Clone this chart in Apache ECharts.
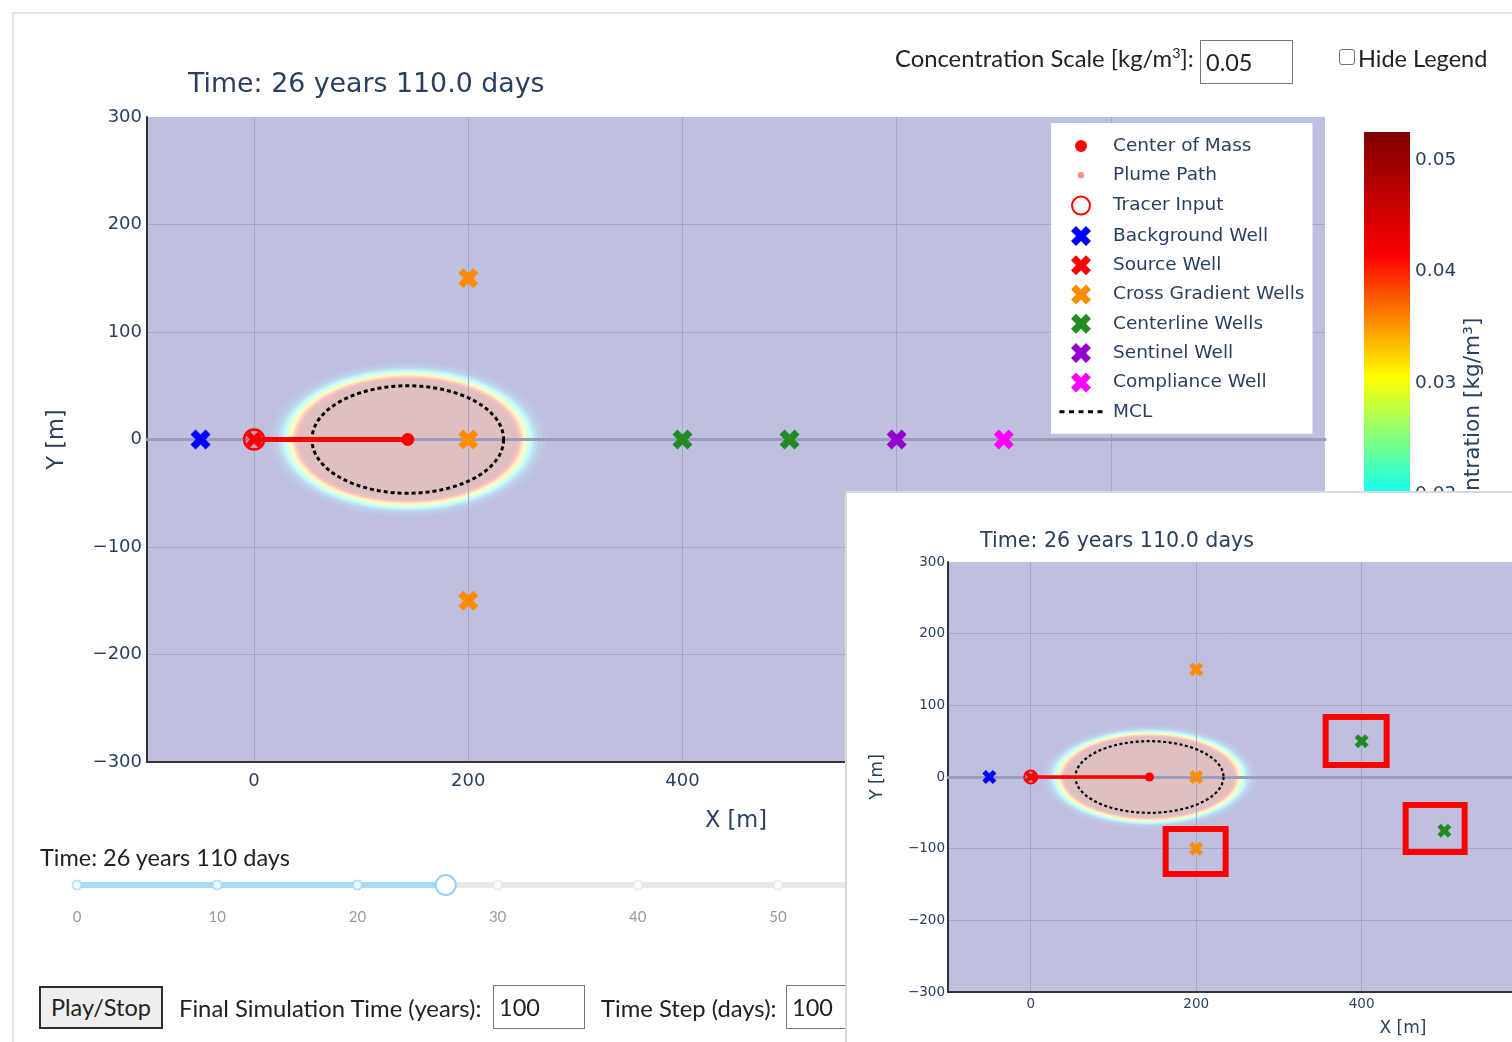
<!DOCTYPE html>
<html>
<head>
<meta charset="utf-8">
<title>Plume simulation</title>
<script src="https://cdn.jsdelivr.net/npm/echarts@6.0.0/dist/echarts.min.js"></script>
<style>
  html, body { margin: 0; padding: 0; background: #fff; overflow: hidden; }
  body { width: 1512px; height: 1042px; position: relative; font-family: Lato, "Noto Sans", sans-serif; color: #222; }
  #frame { position: absolute; left: 12px; top: 12px; width: 1600px; height: 1100px; border-left: 2px solid #e4e4e4; border-top: 2px solid #e4e4e4; }
  #main { position: absolute; left: 0; top: 0; width: 1512px; height: 1042px; }
  .lbl { position: absolute; white-space: nowrap; font-size: 23.8px; line-height: 28px; }
  .lbl sup { font-size: 0.6em; vertical-align: 0.65em; line-height: 0; }
  .box { position: absolute; border: 1px solid #767676; background: #fff; font-size: 23.5px; line-height: 42px; padding-left: 5px; box-sizing: border-box; white-space: nowrap; overflow: hidden; }
  .chk { position: absolute; width: 16px; height: 16px; border: 1.5px solid #707070; border-radius: 3px; background: #fff; box-sizing: border-box; }
  .btn { position: absolute; background: #efefef; border: 2px solid #2e2e2e; box-sizing: border-box; font-size: 23.5px; line-height: 39px; text-align: center; white-space: nowrap; }
  #inset { position: absolute; left: 845px; top: 491px; width: 700px; height: 600px; background: #fff; border-left: 2px solid #d9d9d9; border-top: 2px solid #d9d9d9; }
  #insetChart { position: absolute; left: -2px; top: -2px; width: 667px; height: 551px; }
</style>
</head>
<body>
<div id="frame"></div>
<div id="main"></div>

<div class="lbl" style="left:895px; top:44px;">Concentration Scale [kg/m<sup>3</sup>]:</div>
<div class="box" style="left:1200px; top:40px; width:93px; height:44px;">0.05</div>
<div class="chk" style="left:1339px; top:49px;"></div>
<div class="lbl" style="left:1358px; top:44px; font-size:23.5px;">Hide Legend</div>

<div class="lbl" style="left:40px; top:843px; font-size:23.5px;">Time: 26 years 110 days</div>
<div class="btn" style="left:39px; top:986px; width:124px; height:43px;">Play/Stop</div>
<div class="lbl" style="left:179px; top:994px;">Final Simulation Time (years):</div>
<div class="box" style="left:493px; top:985px; width:92px; height:44px;">100</div>
<div class="lbl" style="left:601px; top:994px;">Time Step (days):</div>
<div class="box" style="left:786px; top:985px; width:92px; height:44px;">100</div>

<div id="inset"><div id="insetChart"></div></div>

<script>
// ---------------- data ----------------
const timeTitle = 'Time: 26 years 110.0 days';
const currentYears = 26 + 110 / 365;
const sliderTicks = [0, 10, 20, 30, 40, 50, 60, 70, 80, 90, 100];

const xExtent = [-100, 1000];
const yExtent = [-300, 300];

// plume state at the current time step
const centerOfMass = [[143.5, 0]];
const plumePath = [[0, 0], [143.5, 0]];
const tracerInput = [[0, 0]];

// monitoring wells, design layout
const backgroundWell = [[-50, 0]];
const sourceWell = [[0, 0]];
const crossGradientWells = [[200, 150], [200, 0], [200, -150]];
const centerlineWells = [[400, 0], [500, 0]];
const sentinelWell = [[600, 0]];
const complianceWell = [[700, 0]];

// monitoring wells, field layout
const crossGradientWellsField = [[200, 150], [200, 0], [200, -100]];
const centerlineWellsField = [[400, 50], [500, -75]];
// off-line wells flagged in the field layout: [x1, y1, x2, y2]
const flaggedAreas = [
  [356.5, 83.7, 430.2, 16.7],
  [453.2, -39.1, 524.5, -104.6],
  [163.1, -72.6, 235.6, -135.3]
];

// concentration contours of the plume (kg/m3) and their half axes (m)
const plumeCenter = [143.5, 0];
const contourLevels     = [0.004, 0.008, 0.012, 0.016, 0.020, 0.024, 0.028, 0.032, 0.036, 0.040, 0.044, 0.048, 0.0525];
const contourHalfLength = [129,   125,   121,   118,   116,   114,   111.5, 109.5, 107.5, 106,   104.5, 103,   102];
const contourHalfWidth  = [72,    69.5,  67,    65.5,  64.5,  63,    62,    60.5,  59.5,  58.5,  57.5,  57,    56];
const mclHalfAxes = [89.5, 50];

const colorbarRange = [0, 0.0525];
const colorbarStep = 0.01;

// ---------------- styling ----------------
const FONT = 'DejaVu Sans';
const TXT = '#2a3f5f';
const GRIDLINE = '#a2a5c5';
const ZEROLINE = '#9a9cbd';
const SLIDER_BLUE = '#a6dcf5';
const X_SYMBOL = 'path://M0,1L1,2L2,1L1,0L2,-1L1,-2L0,-1L-1,-2L-2,-1L-1,0L-2,1L-1,2Z';

// colour scale of the concentration field: [value, rgb]
const plumeScale = [
  [0,      [0, 0, 131]],
  [0.0085, [0, 60, 170]],
  [0.0195, [5, 255, 255]],
  [0.0305, [255, 255, 0]],
  [0.0415, [250, 0, 0]],
  [0.0525, [128, 0, 0]]
];
const fieldOpacity = 0.25;

function scaleColor(v) {
  if (v <= plumeScale[0][0]) return plumeScale[0][1];
  for (let i = 1; i < plumeScale.length; i++) {
    const [v1, c1] = plumeScale[i];
    if (v <= v1) {
      const [v0, c0] = plumeScale[i - 1];
      const t = (v - v0) / (v1 - v0);
      return c0.map((c, k) => c + (c1[k] - c) * t);
    }
  }
  return plumeScale[plumeScale.length - 1][1];
}
function rgb(c) { return 'rgb(' + c.map(Math.round).join(',') + ')'; }
// field is shown semi-transparent over a white page
function fieldColor(v) {
  return rgb(scaleColor(v).map(c => 255 * (1 - fieldOpacity) + c * fieldOpacity));
}

function ellipsePoints(cx, cy, rx, ry) {
  const pts = [];
  const n = 144;
  for (let k = 0; k < n; k++) {
    const t = (k / n) * Math.PI * 2;
    pts.push([cx + rx * Math.cos(t), cy + ry * Math.sin(t)]);
  }
  return pts;
}

function plumeItem(params, api) {
  const c = api.coord(plumeCenter);
  const rx = api.size([api.value(1), 0])[0];
  const ry = api.size([0, api.value(2)])[1];
  return {
    type: 'polygon',
    shape: { points: ellipsePoints(c[0], c[1], rx, ry) },
    style: { fill: fieldColor(api.value(0)) },
    silent: true
  };
}

function mclItem(width, dash) {
  return function (params, api) {
    const c = api.coord(plumeCenter);
    const rx = api.size([api.value(0), 0])[0];
    const ry = api.size([0, api.value(1)])[1];
    return {
      type: 'polygon',
      shape: { points: ellipsePoints(c[0], c[1], rx, ry) },
      style: { fill: 'none', stroke: '#000', lineWidth: width, lineDash: dash }
    };
  };
}

function flagItem(params, api) {
  const p1 = api.coord([api.value(0), api.value(1)]);
  const p2 = api.coord([api.value(2), api.value(3)]);
  return {
    type: 'rect',
    shape: {
      x: Math.min(p1[0], p2[0]), y: Math.min(p1[1], p2[1]),
      width: Math.abs(p2[0] - p1[0]), height: Math.abs(p2[1] - p1[1])
    },
    style: { fill: 'none', stroke: '#ff0000', lineWidth: 6 }
  };
}

function tickFmt(v) { return v < 0 ? '\u2212' + Math.abs(v) : String(v); }

function contourData() {
  return contourLevels.map((v, i) => [v, contourHalfLength[i], contourHalfWidth[i]]);
}

function wellSeries(name, data, color, size, z) {
  return {
    type: 'scatter', name: name, data: data, xAxisIndex: 0, yAxisIndex: 0,
    symbol: X_SYMBOL, symbolSize: size, symbolKeepAspect: true,
    itemStyle: { color: color, opacity: 1 }, z: z || 5, silent: true
  };
}

// all traces of one map view
function mapSeries(s, wells) {
  const list = [
    { type: 'custom', name: 'plume', xAxisIndex: 0, yAxisIndex: 0, z: 1, silent: true,
      renderItem: plumeItem, data: contourData() },
    { type: 'custom', name: 'MCL', xAxisIndex: 0, yAxisIndex: 0, z: 3, silent: true,
      renderItem: mclItem(s.mclWidth, s.mclDash), data: [mclHalfAxes], itemStyle: { color: '#000' } },
    { type: 'line', name: 'Plume Path', xAxisIndex: 0, yAxisIndex: 0, z: 4, silent: true,
      data: plumePath, symbol: 'none', lineStyle: { color: '#ff0000', width: s.path }, itemStyle: { color: '#ff0000' } },
    { type: 'scatter', name: 'Center of Mass', xAxisIndex: 0, yAxisIndex: 0, z: 5, silent: true,
      data: centerOfMass, symbol: 'circle', symbolSize: s.com, itemStyle: { color: '#ff0000', opacity: 1 } },
    wellSeries('Background Well', backgroundWell, '#0000ff', s.x),
    wellSeries('Source Well', sourceWell, '#ff0000', s.src, 5),
    { type: 'scatter', name: 'Tracer Input', xAxisIndex: 0, yAxisIndex: 0, z: 6, silent: true,
      data: tracerInput, symbol: 'circle', symbolSize: s.tracer,
      itemStyle: { color: 'rgba(255,0,0,0.15)', borderColor: '#ff0000', borderWidth: s.tracerBorder, opacity: 1 } },
    wellSeries('Cross Gradient Wells', wells.cross, '#ff8c00', s.x),
    wellSeries('Centerline Wells', wells.center, '#228b22', s.x)
  ];
  if (wells.sentinel) list.push(wellSeries('Sentinel Well', wells.sentinel, '#9400d3', s.x));
  if (wells.compliance) list.push(wellSeries('Compliance Well', wells.compliance, '#ff00ff', s.x));
  return list;
}

function mapAxes(s) {
  const xAxes = [
    { gridIndex: 0, type: 'value', min: xExtent[0], max: xExtent[1], splitNumber: 5, z: 2,
      axisLine: { show: true, onZero: false, lineStyle: { color: '#333', width: 2 } },
      axisTick: { show: false },
      axisLabel: { fontSize: s.tick, color: TXT, fontFamily: FONT, margin: s.xMargin,
                   showMinLabel: false, showMaxLabel: false, formatter: tickFmt },
      splitLine: { show: true, showMinLine: false, showMaxLine: false, lineStyle: { color: GRIDLINE, width: 1 } },
      name: 'X [m]', nameLocation: 'middle', nameGap: s.xNameGap,
      nameTextStyle: { fontSize: s.axisName, color: TXT, fontFamily: FONT } },
    // zero line of the y scale
    { gridIndex: 0, type: 'value', min: xExtent[0], max: xExtent[1], z: 2,
      axisLine: { show: true, onZero: true, onZeroAxisIndex: 0, lineStyle: { color: ZEROLINE, width: 3 } },
      axisTick: { show: false }, axisLabel: { show: false }, splitLine: { show: false } }
  ];
  const yAxes = [
    { gridIndex: 0, type: 'value', min: yExtent[0], max: yExtent[1], interval: 100, z: 2,
      axisLine: { show: true, onZero: false, lineStyle: { color: '#333', width: 2 } },
      axisTick: { show: false },
      axisLabel: { fontSize: s.tick, color: TXT, fontFamily: FONT, margin: s.yMargin, formatter: tickFmt },
      splitLine: { show: true, showMinLine: false, showMaxLine: false, lineStyle: { color: GRIDLINE, width: 1 } },
      name: 'Y [m]', nameLocation: 'middle', nameGap: s.yNameGap, nameRotate: 90,
      nameTextStyle: { fontSize: s.axisName, color: TXT, fontFamily: FONT } }
  ];
  return { xAxes, yAxes };
}

// legend icons live in a 49x20 box, symbol centred at the origin
function legendIcon(inner) { return 'path://M-22,-10M27,10' + inner; }
const circlePath = r => 'M' + (-r) + ',0A' + r + ',' + r + ',0,1,0,' + r + ',0A' + r + ',' + r + ',0,1,0,' + (-r) + ',0Z';
const xIconPath = 'M0,5L5,10L10,5L5,0L10,-5L5,-10L0,-5L-5,-10L-10,-5L-5,0L-10,5L-5,10Z';
const dashIconPath = [-21.5, -12, -2.5, 7, 16.5]
  .map(x0 => 'M' + x0 + ',-1.5L' + (x0 + 5) + ',-1.5L' + (x0 + 5) + ',1.5L' + x0 + ',1.5Z').join('');

// ---------------- main view ----------------
const mainSizes = { x: 20, src: 16, com: 13, tracer: 20, tracerBorder: 2.5, path: 5, mclWidth: 3, mclDash: [4, 3],
                    tick: 18, axisName: 22.5, xMargin: 10, yMargin: 5, xNameGap: 48, yNameGap: 78 };
const mainAx = mapAxes(mainSizes);

const gradientStops = plumeScale.map(([v, c]) => ({ offset: (v - colorbarRange[0]) / (colorbarRange[1] - colorbarRange[0]), color: rgb(c) }));

const mainOption = {
  animation: false,
  textStyle: { fontFamily: FONT },
  title: { text: timeTitle, left: 188, top: 72, padding: 0,
           textStyle: { fontSize: 26.8, fontWeight: 'normal', color: TXT, fontFamily: FONT } },
  grid: [
    { left: 147, top: 117, width: 1178, height: 645, show: true, backgroundColor: fieldColor(0), borderWidth: 0, outerBoundsMode: 'none' },
    { left: 1364, top: 132, width: 46, height: 585, outerBoundsMode: 'none' },
    { left: 77, top: 875, width: 1402, height: 20, outerBoundsMode: 'none' }
  ],
  legend: {
    orient: 'vertical', left: 1051, top: 123, padding: [13, 8, 12, 7],
    itemWidth: 49, itemHeight: 20, itemGap: 9.3, backgroundColor: '#fff', z: 10, selectedMode: false,
    textStyle: { fontSize: 18.5, color: TXT, fontFamily: FONT },
    data: [
      { name: 'Center of Mass', icon: legendIcon(circlePath(6)), itemStyle: { color: '#ff0000', borderWidth: 0 } },
      { name: 'Plume Path', icon: legendIcon(circlePath(3.2)), itemStyle: { color: 'rgba(255,0,0,0.45)', borderWidth: 0 } },
      { name: 'Tracer Input', icon: legendIcon(circlePath(9)), itemStyle: { color: '#fff', borderColor: '#ff0000', borderWidth: 2 } },
      { name: 'Background Well', icon: legendIcon(xIconPath), itemStyle: { color: '#0000ff', borderWidth: 0 } },
      { name: 'Source Well', icon: legendIcon(xIconPath), itemStyle: { color: '#ff0000', borderWidth: 0 } },
      { name: 'Cross Gradient Wells', icon: legendIcon(xIconPath), itemStyle: { color: '#ff8c00', borderWidth: 0 } },
      { name: 'Centerline Wells', icon: legendIcon(xIconPath), itemStyle: { color: '#228b22', borderWidth: 0 } },
      { name: 'Sentinel Well', icon: legendIcon(xIconPath), itemStyle: { color: '#9400d3', borderWidth: 0 } },
      { name: 'Compliance Well', icon: legendIcon(xIconPath), itemStyle: { color: '#ff00ff', borderWidth: 0 } },
      { name: 'MCL', icon: legendIcon(dashIconPath), itemStyle: { color: '#000', borderWidth: 0 } }
    ]
  },
  xAxis: mainAx.xAxes.concat([
    { gridIndex: 1, type: 'category', data: ['scale'], show: false },
    { gridIndex: 2, type: 'value', min: 0, max: 100, interval: 10,
      axisLine: { show: false }, axisTick: { show: false }, splitLine: { show: false },
      axisLabel: { fontSize: 15, color: '#9a9a9a', fontFamily: 'Lato', margin: 15 } }
  ]),
  yAxis: mainAx.yAxes.concat([
    { gridIndex: 1, type: 'value', min: colorbarRange[0], max: colorbarRange[1], interval: colorbarStep, position: 'right',
      axisLine: { show: false }, axisTick: { show: false }, splitLine: { show: false },
      axisLabel: { fontSize: 18.5, color: TXT, fontFamily: FONT, margin: 5, showMaxLabel: false,
                   formatter: v => v.toFixed(2) },
      name: 'Concentration [kg/m\u00B3]', nameLocation: 'middle', nameRotate: 90, nameGap: 52,
      nameTextStyle: { fontSize: 21.7, color: TXT, fontFamily: FONT, padding: [0, 27, 0, 0] } },
    { gridIndex: 2, type: 'value', min: -1, max: 1, show: false }
  ]),
  series: mapSeries(mainSizes, {
    cross: crossGradientWells, center: centerlineWells, sentinel: sentinelWell, compliance: complianceWell
  }).concat([
    // colour bar
    { type: 'bar', name: 'scale', xAxisIndex: 2, yAxisIndex: 1, barWidth: '100%', silent: true,
      data: [colorbarRange[1]],
      itemStyle: { color: new echarts.graphic.LinearGradient(0, 1, 0, 0, gradientStops) } },
    // time slider
    { type: 'line', name: 'rail', xAxisIndex: 3, yAxisIndex: 2, silent: true, symbol: 'none', z: 2,
      data: [[sliderTicks[0], 0], [sliderTicks[sliderTicks.length - 1], 0]],
      lineStyle: { color: '#e9e9e9', width: 6, cap: 'round' } },
    { type: 'line', name: 'track', xAxisIndex: 3, yAxisIndex: 2, silent: true, symbol: 'none', z: 3,
      data: [[0, 0], [currentYears, 0]], lineStyle: { color: SLIDER_BLUE, width: 6, cap: 'round' } },
    { type: 'scatter', name: 'marks', xAxisIndex: 3, yAxisIndex: 2, silent: true, z: 4, symbolSize: 9,
      data: sliderTicks.map(t => ({ value: [t, 0], itemStyle: { color: '#fff', borderWidth: 2,
                                                                  borderColor: t <= currentYears ? SLIDER_BLUE : '#e6e6e6' } })) },
    { type: 'scatter', name: 'handle', xAxisIndex: 3, yAxisIndex: 2, silent: true, z: 5, symbolSize: 20,
      data: [[currentYears, 0]], itemStyle: { color: '#fff', borderColor: '#93d3f2', borderWidth: 2, opacity: 1 } }
  ])
};

const mainChart = echarts.init(document.getElementById('main'), null, { renderer: 'canvas' });
mainChart.setOption(mainOption);

// ---------------- field layout view ----------------
const fieldSizes = { x: 14, src: 11, com: 9, tracer: 13, tracerBorder: 2, path: 3.5, mclWidth: 2.2, mclDash: [3, 2.5],
                     tick: 13.5, axisName: 17, xMargin: 5, yMargin: 3, xNameGap: 28, yNameGap: 62 };
const fieldAx = mapAxes(fieldSizes);

const fieldOption = {
  animation: false,
  textStyle: { fontFamily: FONT },
  title: { text: timeTitle, left: 135, top: 40, padding: 0,
           textStyle: { fontSize: 20.6, fontWeight: 'normal', color: TXT, fontFamily: FONT } },
  grid: [{ left: 103, top: 71, width: 910, height: 430, show: true, backgroundColor: fieldColor(0), borderWidth: 0, outerBoundsMode: 'none' }],
  xAxis: fieldAx.xAxes,
  yAxis: fieldAx.yAxes,
  series: mapSeries(fieldSizes, { cross: crossGradientWellsField, center: centerlineWellsField }).concat([
    { type: 'custom', name: 'flagged', xAxisIndex: 0, yAxisIndex: 0, z: 8, silent: true,
      renderItem: flagItem, data: flaggedAreas }
  ])
};

const fieldChart = echarts.init(document.getElementById('insetChart'), null, { renderer: 'canvas' });
fieldChart.setOption(fieldOption);
</script>
</body>
</html>
